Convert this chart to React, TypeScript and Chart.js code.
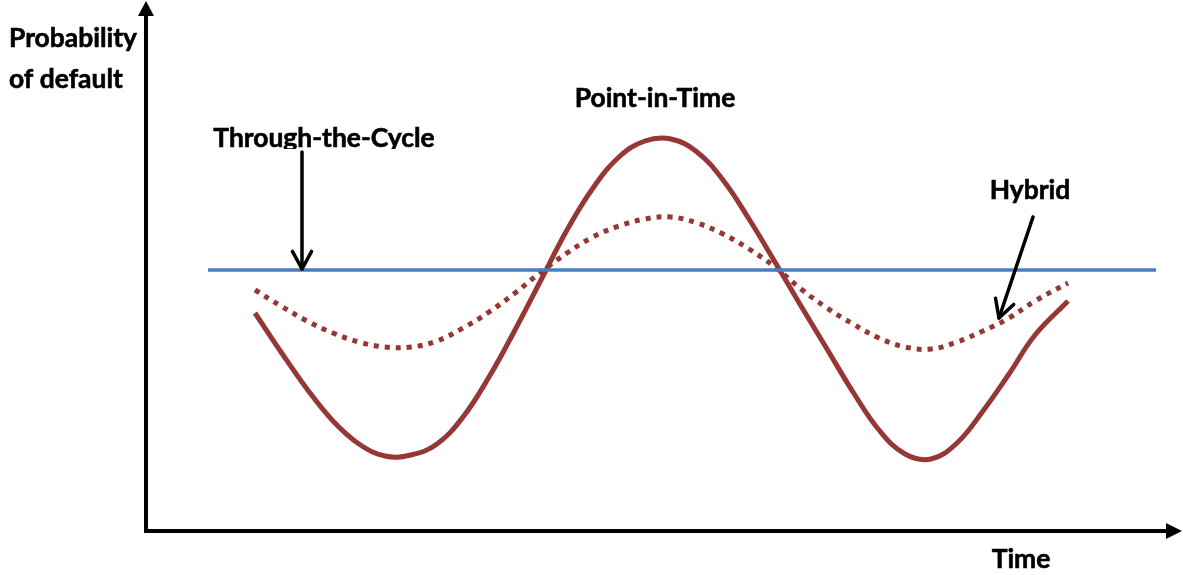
import React, { useEffect, useRef } from "react";
import { Chart, registerables } from "chart.js";

Chart.register(...registerables);

// Time positions (horizontal units) shared by both cyclical series
const timeSteps = [109,135,161,187,213,239,265,291,317,343,369,395,421,447,473,499,525,551,577,603,629,655,681,707,733,759,785,811,837,863,889,922];
// Point-in-Time probability level (vertical units)
const pitPD = [218,179,142,110,87,75,76,87,114,154,201,251,301,343,374,390,392,379,351,312,269,225,182,139,101,77,72,88,120,157,196,230];
// Hybrid probability level (vertical units)
const hybridPD = [241,225,210,198,189,184,184,190,203,219,238,259,278,294,305,312,314,308,297,282,264,242,223,207,193,184,182,189,200,213,230,248];

// Through-the-Cycle (flat)
const ttcTime = [62, 1010];
const ttcPD = [261, 261];

const labels = {
  yTitle: ["Probability", "of default"],
  xTitle: "Time",
  pit: "Point-in-Time",
  ttc: "Through-the-Cycle",
  hybrid: "Hybrid",
};

const RED = "#953735";
const BLUE = "#4A7EBB";

function pts(xs: number[], ys: number[]) {
  return xs.map((x, i) => ({ x, y: ys[i] }));
}

function arrowLine(ctx: CanvasRenderingContext2D, x1: number, y1: number, x2: number, y2: number) {
  ctx.save();
  ctx.strokeStyle = "#000";
  ctx.lineWidth = 3.5;
  ctx.lineCap = "round";
  ctx.lineJoin = "round";
  ctx.beginPath();
  ctx.moveTo(x1, y1);
  ctx.lineTo(x2, y2);
  ctx.stroke();
  const ang = Math.atan2(y2 - y1, x2 - x1);
  const len = 20;
  const spread = 0.5;
  ctx.beginPath();
  ctx.moveTo(x2 - len * Math.cos(ang - spread), y2 - len * Math.sin(ang - spread));
  ctx.lineTo(x2, y2);
  ctx.lineTo(x2 - len * Math.cos(ang + spread), y2 - len * Math.sin(ang + spread));
  ctx.stroke();
  ctx.restore();
}

function boldText(ctx: CanvasRenderingContext2D, t: string, x: number, y: number) {
  ctx.fillText(t, x, y);
  ctx.strokeText(t, x, y);
}

const decorPlugin = {
  id: "decor",
  afterDraw(chart: any) {
    const ctx: CanvasRenderingContext2D = chart.ctx;
    const a = chart.chartArea;
    const xs = chart.scales.x;
    const ys = chart.scales.y;
    ctx.save();
    // axes
    ctx.strokeStyle = "#000";
    ctx.fillStyle = "#000";
    ctx.lineWidth = 4;
    ctx.beginPath();
    ctx.moveTo(a.left, a.bottom);
    ctx.lineTo(a.left, 14);
    ctx.stroke();
    ctx.beginPath();
    ctx.moveTo(a.left - 2, a.bottom);
    ctx.lineTo(a.right - 14, a.bottom);
    ctx.stroke();
    ctx.beginPath();
    ctx.moveTo(a.left, 1);
    ctx.lineTo(a.left - 8, 16);
    ctx.lineTo(a.left + 8, 16);
    ctx.closePath();
    ctx.fill();
    ctx.beginPath();
    ctx.moveTo(a.right + 2, a.bottom);
    ctx.lineTo(a.right - 14, a.bottom - 8);
    ctx.lineTo(a.right - 14, a.bottom + 8);
    ctx.closePath();
    ctx.fill();

    // text
    ctx.font = "bold 100px Lato";
    const w100 = ctx.measureText("Probability").width;
    const size = (128 / w100) * 100;
    ctx.font = `bold ${size.toFixed(2)}px Lato`;
    ctx.lineWidth = 0.6;
    ctx.textBaseline = "alphabetic";
    ctx.textAlign = "left";
    boldText(ctx, labels.yTitle[0], 9, 47);
    boldText(ctx, labels.yTitle[1], 9, 88);
    ctx.textAlign = "center";
    boldText(ctx, labels.pit, 655, 107);
    boldText(ctx, labels.hybrid, 1030, 199);
    boldText(ctx, labels.xTitle, 1021, 568);
    ctx.save();
    ctx.beginPath();
    ctx.rect(0, 0, 1183, 149);
    ctx.clip();
    boldText(ctx, labels.ttc, 324, 147);
    ctx.restore();

    // annotation arrows pointing at the curves
    const ttcX = xs.getPixelForValue(156);
    const ttcY = ys.getPixelForValue(ttcPD[0]);
    arrowLine(ctx, ttcX, 152, ttcX, ttcY - 1);
    arrowLine(ctx, 1033, 217, xs.getPixelForValue(853), ys.getPixelForValue(213));
    ctx.restore();
  },
};

export default function App() {
  const ref = useRef<HTMLCanvasElement>(null);
  useEffect(() => {
    if (!ref.current) return;
    const chart = new Chart(ref.current, {
      type: "line",
      data: {
        datasets: [
          {
            label: labels.ttc,
            data: pts(ttcTime, ttcPD),
            borderColor: BLUE,
            borderWidth: 3.5,
            pointRadius: 0,
            tension: 0,
            borderCapStyle: "butt",
          },
          {
            label: labels.pit,
            data: pts(timeSteps, pitPD),
            borderColor: RED,
            borderWidth: 5,
            pointRadius: 0,
            tension: 0.4,
            borderCapStyle: "butt",
          },
          {
            label: labels.hybrid,
            data: pts(timeSteps, hybridPD),
            borderColor: RED,
            borderWidth: 5,
            borderDash: [5, 6],
            pointRadius: 0,
            tension: 0.4,
            borderCapStyle: "butt",
          },
        ],
      },
      options: {
        animation: false,
        responsive: false,
        devicePixelRatio: 1,
        layout: { padding: { left: 146, right: 3, top: 5, bottom: 44 } },
        plugins: { legend: { display: false }, tooltip: { enabled: false } },
        scales: {
          x: { type: "linear", min: 0, max: 1034, display: false },
          y: { type: "linear", min: 0, max: 526, display: false },
        },
      },
      plugins: [decorPlugin],
    });
    return () => chart.destroy();
  }, []);
  return (
    <div style={{ position: "absolute", left: 0, top: 0, width: 1183, height: 575, background: "#fff" }}>
      <canvas ref={ref} width={1183} height={575} />
    </div>
  );
}
